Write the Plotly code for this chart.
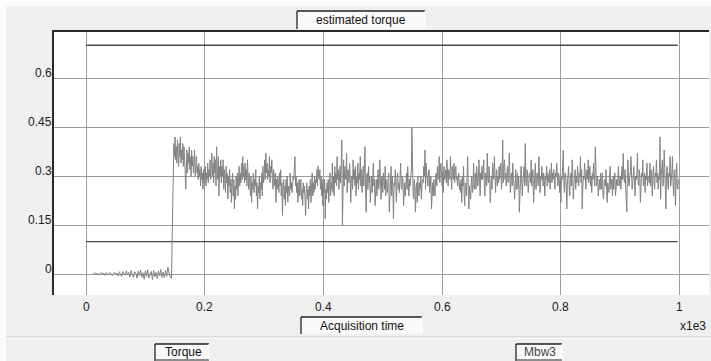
import numpy as np
import plotly.graph_objects as go

# ---------------- data ----------------
pre_step_values = [
    0.004, 0.002, 0.005, 0.001, 0.003, -0.002, 0.004, 0.006, 0.000, 0.003,
    -0.003, 0.005, 0.002, -0.001, 0.006, 0.001, -0.004, 0.003, 0.007, 0.000,
    0.004, -0.005, 0.008, 0.002, -0.006, 0.009, 0.001, -0.003, 0.011, -0.002,
    0.006, -0.008, 0.012, 0.000, -0.010, 0.008, 0.003, -0.012, 0.010, -0.004,
    0.013, -0.009, 0.005, -0.015, 0.011, -0.006, 0.014, -0.011, 0.002, 0.009,
    -0.016, 0.012, -0.007, 0.006, -0.013, 0.010, -0.004, 0.015, -0.009, 0.007,
    -0.010, 0.012, -0.006, 0.022, 0.004, -0.008, -0.012,
]
pre_step_start = 0.012
pre_step_dt = 0.002

step_value = [0.19]
step_x = [0.146]

torque_values = [
    0.40, 0.36, 0.42, 0.35, 0.39, 0.34, 0.41, 0.37, 0.33, 0.40, 0.36, 0.42, 0.34, 0.38, 0.35, 0.40, 0.33, 0.39, 0.36, 0.32,
    0.26, 0.35, 0.38, 0.31, 0.37, 0.34, 0.39, 0.32, 0.36, 0.30, 0.38, 0.33, 0.36, 0.31, 0.35, 0.38, 0.30, 0.34, 0.36, 0.31,
    0.33, 0.29, 0.34, 0.30, 0.32, 0.27, 0.33, 0.29, 0.31, 0.26, 0.32, 0.28, 0.30, 0.33, 0.27, 0.31, 0.29, 0.34, 0.28, 0.32,
    0.30, 0.35, 0.29, 0.33, 0.37, 0.30, 0.34, 0.28, 0.36, 0.31, 0.35, 0.27, 0.39, 0.32, 0.29, 0.36, 0.24, 0.33, 0.30, 0.35,
    0.28, 0.33, 0.30, 0.35, 0.26, 0.32, 0.29, 0.25, 0.33, 0.28, 0.31, 0.23, 0.30, 0.27, 0.32, 0.25, 0.29, 0.22, 0.28, 0.31,
    0.24, 0.29, 0.20, 0.27, 0.23, 0.30, 0.26, 0.31, 0.24, 0.29, 0.33, 0.27, 0.31, 0.28, 0.34, 0.29, 0.36, 0.30, 0.33, 0.28,
    0.34, 0.29, 0.32, 0.27, 0.35, 0.30, 0.26, 0.31, 0.28, 0.24, 0.30, 0.22, 0.28, 0.26, 0.31, 0.25, 0.29, 0.27, 0.32, 0.24,
    0.28, 0.20, 0.27, 0.25, 0.30, 0.23, 0.28, 0.26, 0.31, 0.24, 0.33, 0.28, 0.30, 0.35, 0.29, 0.37, 0.31, 0.34, 0.29, 0.32,
    0.30, 0.36, 0.28, 0.33, 0.31, 0.35, 0.29, 0.26, 0.32, 0.30, 0.27, 0.31, 0.22, 0.29, 0.26, 0.30, 0.28, 0.25, 0.31, 0.27,
    0.32, 0.24, 0.28, 0.18, 0.26, 0.29, 0.23, 0.27, 0.21, 0.29, 0.25, 0.30, 0.22, 0.27, 0.26, 0.24, 0.31, 0.26, 0.28, 0.25,
    0.27, 0.30, 0.29, 0.33, 0.36, 0.27, 0.30, 0.25, 0.28, 0.22, 0.26, 0.29, 0.24, 0.27, 0.29, 0.23, 0.26, 0.21, 0.28, 0.25,
    0.27, 0.23, 0.18, 0.25, 0.28, 0.23, 0.26, 0.20, 0.27, 0.24, 0.29, 0.22, 0.26, 0.31, 0.24, 0.28, 0.25, 0.30, 0.26, 0.29,
    0.28, 0.32, 0.27, 0.33, 0.30, 0.29, 0.32, 0.26, 0.30, 0.24, 0.29, 0.21, 0.27, 0.25, 0.29, 0.17, 0.26, 0.23, 0.28, 0.25,
    0.29, 0.22, 0.27, 0.31, 0.24, 0.28, 0.26, 0.34, 0.25, 0.30, 0.24, 0.33, 0.28, 0.31, 0.27, 0.36, 0.29, 0.32, 0.26, 0.30,
    0.33, 0.28, 0.35, 0.41, 0.15, 0.30, 0.35, 0.27, 0.33, 0.30, 0.29, 0.37, 0.25, 0.32, 0.31, 0.28, 0.34, 0.30, 0.22, 0.29,
    0.30, 0.26, 0.35, 0.29, 0.32, 0.27, 0.33, 0.24, 0.30, 0.28, 0.34, 0.26, 0.31, 0.29, 0.36, 0.27, 0.32, 0.25, 0.30, 0.33,
    0.27, 0.31, 0.39, 0.26, 0.19, 0.30, 0.31, 0.26, 0.33, 0.28, 0.30, 0.22, 0.29, 0.30, 0.25, 0.31, 0.34, 0.27, 0.29, 0.21,
    0.28, 0.29, 0.24, 0.31, 0.32, 0.26, 0.28, 0.35, 0.27, 0.23, 0.29, 0.30, 0.25, 0.31, 0.28, 0.26, 0.33, 0.24, 0.29, 0.27,
    0.25, 0.29, 0.31, 0.19, 0.27, 0.28, 0.33, 0.24, 0.30, 0.26, 0.17, 0.28, 0.27, 0.32, 0.25, 0.22, 0.29, 0.31, 0.26, 0.28,
    0.25, 0.32, 0.34, 0.27, 0.26, 0.30, 0.29, 0.21, 0.27, 0.28, 0.24, 0.30, 0.31, 0.26, 0.33, 0.28, 0.24, 0.29, 0.27, 0.30,
    0.31, 0.45, 0.27, 0.25, 0.23, 0.29, 0.27, 0.19, 0.26, 0.28, 0.22, 0.30, 0.25, 0.24, 0.28, 0.26, 0.30, 0.23, 0.27, 0.29,
    0.28, 0.33, 0.30, 0.38, 0.26, 0.34, 0.31, 0.29, 0.27, 0.31, 0.32, 0.25, 0.28, 0.30, 0.20, 0.27, 0.28, 0.24, 0.29, 0.26,
    0.24, 0.30, 0.31, 0.27, 0.33, 0.30, 0.29, 0.36, 0.28, 0.32, 0.34, 0.30, 0.27, 0.31, 0.25, 0.33, 0.29, 0.30, 0.32, 0.28,
    0.35, 0.30, 0.27, 0.32, 0.31, 0.29, 0.36, 0.30, 0.26, 0.33, 0.31, 0.29, 0.34, 0.28, 0.31, 0.33, 0.29, 0.30, 0.27, 0.31,
    0.31, 0.26, 0.28, 0.25, 0.29, 0.22, 0.30, 0.27, 0.33, 0.25, 0.21, 0.28, 0.27, 0.24, 0.30, 0.36, 0.26, 0.20, 0.27, 0.25,
    0.23, 0.28, 0.30, 0.25, 0.27, 0.34, 0.26, 0.28, 0.31, 0.26, 0.33, 0.29, 0.27, 0.30, 0.35, 0.28, 0.24, 0.31, 0.29, 0.33,
    0.29, 0.31, 0.35, 0.27, 0.24, 0.31, 0.30, 0.27, 0.37, 0.29, 0.28, 0.33, 0.30, 0.22, 0.29, 0.30, 0.26, 0.34, 0.31, 0.29,
    0.36, 0.28, 0.25, 0.30, 0.32, 0.27, 0.30, 0.28, 0.33, 0.29, 0.31, 0.34, 0.26, 0.30, 0.41, 0.28, 0.33, 0.35, 0.29, 0.31,
    0.27, 0.30, 0.33, 0.28, 0.29, 0.37, 0.31, 0.25, 0.30, 0.31, 0.27, 0.34, 0.29, 0.28, 0.23, 0.30, 0.32, 0.26, 0.29, 0.31,
    0.26, 0.30, 0.19, 0.28, 0.29, 0.33, 0.30, 0.24, 0.28, 0.31, 0.33, 0.27, 0.40, 0.29, 0.27, 0.32, 0.30, 0.25, 0.28, 0.31,
    0.30, 0.28, 0.35, 0.27, 0.30, 0.32, 0.22, 0.29, 0.30, 0.34, 0.26, 0.28, 0.31, 0.29, 0.27, 0.36, 0.28, 0.25, 0.30, 0.29,
    0.33, 0.30, 0.27, 0.31, 0.29, 0.24, 0.30, 0.29, 0.33, 0.27, 0.31, 0.30, 0.28, 0.32, 0.26, 0.30, 0.34, 0.28, 0.31, 0.29,
    0.32, 0.29, 0.26, 0.31, 0.30, 0.34, 0.28, 0.27, 0.31, 0.30, 0.25, 0.29, 0.22, 0.30, 0.29, 0.33, 0.38, 0.28, 0.25, 0.31,
    0.30, 0.27, 0.20, 0.28, 0.30, 0.33, 0.26, 0.24, 0.29, 0.31, 0.27, 0.35, 0.30, 0.23, 0.28, 0.29, 0.32, 0.26, 0.30, 0.28,
    0.33, 0.29, 0.27, 0.31, 0.30, 0.36, 0.28, 0.32, 0.20, 0.27, 0.30, 0.29, 0.34, 0.31, 0.26, 0.30, 0.32, 0.29, 0.35, 0.28,
    0.31, 0.33, 0.27, 0.30, 0.25, 0.31, 0.29, 0.34, 0.30, 0.27, 0.39, 0.32, 0.27, 0.29, 0.30, 0.24, 0.28, 0.29, 0.26, 0.31,
    0.26, 0.29, 0.31, 0.24, 0.23, 0.28, 0.29, 0.27, 0.32, 0.26, 0.22, 0.28, 0.27, 0.25, 0.30, 0.33, 0.26, 0.28, 0.29, 0.24,
    0.30, 0.26, 0.29, 0.31, 0.24, 0.28, 0.29, 0.27, 0.31, 0.33, 0.27, 0.29, 0.30, 0.26, 0.32, 0.33, 0.29, 0.37, 0.30, 0.28,
    0.32, 0.27, 0.24, 0.19, 0.31, 0.35, 0.28, 0.27, 0.30, 0.31, 0.36, 0.29, 0.26, 0.28, 0.30, 0.33, 0.28, 0.24, 0.30, 0.29,
    0.31, 0.37, 0.28, 0.27, 0.32, 0.30, 0.22, 0.29, 0.31, 0.30, 0.35, 0.27, 0.28, 0.31, 0.25, 0.30, 0.29, 0.34, 0.27, 0.30,
    0.30, 0.28, 0.34, 0.27, 0.32, 0.29, 0.24, 0.30, 0.33, 0.28, 0.26, 0.31, 0.30, 0.35, 0.28, 0.31, 0.26, 0.30, 0.29, 0.42,
    0.23, 0.30, 0.32, 0.35, 0.27, 0.29, 0.38, 0.30, 0.29, 0.20, 0.31, 0.33, 0.28, 0.26, 0.31, 0.30, 0.36, 0.27, 0.29, 0.31,
    0.36, 0.28, 0.24, 0.31, 0.32, 0.21, 0.29, 0.34, 0.27, 0.26, 0.29,
]
torque_start = 0.148
torque_dt = 0.001

limit_x = [0.0, 0.997]
limit_high = [0.7, 0.7]
limit_low = [0.1, 0.1]

x_tick_vals = [0, 0.2, 0.4, 0.6, 0.8, 1]
x_tick_text = ["0", "0.2", "0.4", "0.6", "0.8", "1"]
y_tick_vals = [0, 0.15, 0.3, 0.45, 0.6]
y_tick_text = ["0", "0.15", "0.3", "0.45", "0.6"]

title_text = "estimated torque"
x_title_text = "Acquisition time"
x_scale_text = "x1e3"
legend_left_text = "Torque"
legend_right_text = "Mbw3"

# ---------------- geometry ----------------
W, H = 711, 361
L, R, T, B = 54, 2, 32, 66
PW, PH = W - L - R, H - T - B
FONT = "Liberation Sans, Arial, sans-serif"


def px(p):
    return (p - L) / PW


def py(p):
    return (H - B - p) / PH


x_pre = pre_step_start + pre_step_dt * np.arange(len(pre_step_values))
x_torque = torque_start + torque_dt * np.arange(len(torque_values))
sig_x = list(x_pre) + step_x + list(x_torque)
sig_y = pre_step_values + step_value + torque_values

fig = go.Figure()
fig.add_trace(go.Scatter(x=limit_x, y=limit_high, mode="lines",
                         line=dict(color="#4a4a4a", width=1.4), hoverinfo="skip"))
fig.add_trace(go.Scatter(x=limit_x, y=limit_low, mode="lines",
                         line=dict(color="#4a4a4a", width=1.4), hoverinfo="skip"))
fig.add_trace(go.Scatter(x=sig_x, y=sig_y, mode="lines",
                         line=dict(color="#828282", width=1), hoverinfo="skip"))

shapes = []
# outer panel highlights
shapes.append(dict(type="rect", xref="paper", yref="paper", x0=px(0), x1=px(W), y0=py(0), y1=py(6),
                   fillcolor="#fbfbfb", line=dict(width=0)))
shapes.append(dict(type="rect", xref="paper", yref="paper", x0=px(0), x1=px(6), y0=py(0), y1=py(H),
                   fillcolor="#fbfbfb", line=dict(width=0)))
# separator between panels
shapes.append(dict(type="line", xref="paper", yref="paper", x0=px(6), x1=px(W), y0=py(337), y1=py(337),
                   line=dict(color="#c8c8c8", width=1)))
shapes.append(dict(type="line", xref="paper", yref="paper", x0=px(6), x1=px(W), y0=py(338), y1=py(338),
                   line=dict(color="#ffffff", width=1)))


def sunken_box(x0, x1, y0, y1):
    out = []
    out.append(dict(type="rect", xref="paper", yref="paper", x0=px(x0), x1=px(x1), y0=py(y0), y1=py(y1),
                    fillcolor="#f9f9f9", line=dict(width=0)))
    out.append(dict(type="line", xref="paper", yref="paper", x0=px(x0), x1=px(x1), y0=py(y0), y1=py(y0),
                    line=dict(color="#222222", width=1.3)))
    out.append(dict(type="line", xref="paper", yref="paper", x0=px(x0), x1=px(x0), y0=py(y0), y1=py(y1),
                    line=dict(color="#222222", width=1.3)))
    out.append(dict(type="line", xref="paper", yref="paper", x0=px(x1), x1=px(x1), y0=py(y0), y1=py(y1),
                    line=dict(color="#ffffff", width=1)))
    return out


shapes += sunken_box(297, 425, 11, 29)
shapes += sunken_box(301, 422, 317, 334)
shapes += sunken_box(155, 209, 344, 362)
shapes += sunken_box(516, 562, 344, 362)
shapes.append(dict(type="line", xref="paper", yref="paper", x0=px(156), x1=px(209), y0=py(360), y1=py(360),
                   line=dict(color="#222222", width=1)))
shapes.append(dict(type="line", xref="paper", yref="paper", x0=px(517), x1=px(562), y0=py(360), y1=py(360),
                   line=dict(color="#222222", width=1)))

annotations = []
for v, t in zip(x_tick_vals, x_tick_text):
    annotations.append(dict(x=v, xref="x", y=py(306.5), yref="paper", text=t, showarrow=False,
                            xanchor="center", yanchor="middle", font=dict(family=FONT, size=12, color="#1a1a1a")))
for v, t in zip(y_tick_vals, y_tick_text):
    annotations.append(dict(x=px(53), xref="paper", y=v, yref="y", yshift=5, text=t, showarrow=False,
                            xanchor="right", yanchor="middle", borderpad=0,
                            font=dict(family=FONT, size=12, color="#1a1a1a")))

annotations.append(dict(x=px(361), y=py(20.5), xref="paper", yref="paper", text=title_text, showarrow=False,
                        xanchor="center", yanchor="middle", font=dict(family=FONT, size=12, color="#111")))
annotations.append(dict(x=px(362), y=py(326), xref="paper", yref="paper", text=x_title_text, showarrow=False,
                        xanchor="center", yanchor="middle", font=dict(family=FONT, size=12, color="#111")))
annotations.append(dict(x=px(707), y=py(326), xref="paper", yref="paper", text=x_scale_text, showarrow=False,
                        xanchor="right", yanchor="middle", borderpad=0, font=dict(family=FONT, size=12, color="#1a1a1a")))
annotations.append(dict(x=px(183), y=py(352), xref="paper", yref="paper", text=legend_left_text, showarrow=False,
                        xanchor="center", yanchor="middle", font=dict(family=FONT, size=12, color="#111")))
annotations.append(dict(x=px(539.5), y=py(352), xref="paper", yref="paper", text=legend_right_text, showarrow=False,
                        xanchor="center", yanchor="middle", font=dict(family=FONT, size=12, color="#444")))

fig.update_layout(
    width=W, height=H, autosize=False,
    margin=dict(l=L, r=R, t=T, b=B, pad=0),
    paper_bgcolor="#efefef", plot_bgcolor="#ffffff",
    showlegend=False,
    shapes=shapes, annotations=annotations,
    xaxis=dict(range=[(L - 86) / 593.6, (W - R - 86) / 593.6], tickvals=x_tick_vals, showticklabels=False,
               showgrid=True, gridcolor="#9c9c9c", gridwidth=1, zeroline=False, ticks="",
               showline=True, side="top", linecolor="#2a2a2a", linewidth=2, fixedrange=True),
    yaxis=dict(range=[(274.4 - (H - B)) / 327.3, (274.4 - T) / 327.3], tickvals=y_tick_vals, showticklabels=False,
               showgrid=True, gridcolor="#9c9c9c", gridwidth=1, zeroline=False, ticks="",
               showline=True, linecolor="#2a2a2a", linewidth=2, fixedrange=True),
)

fig.write_html("out.html", config=dict(displayModeBar=False))
